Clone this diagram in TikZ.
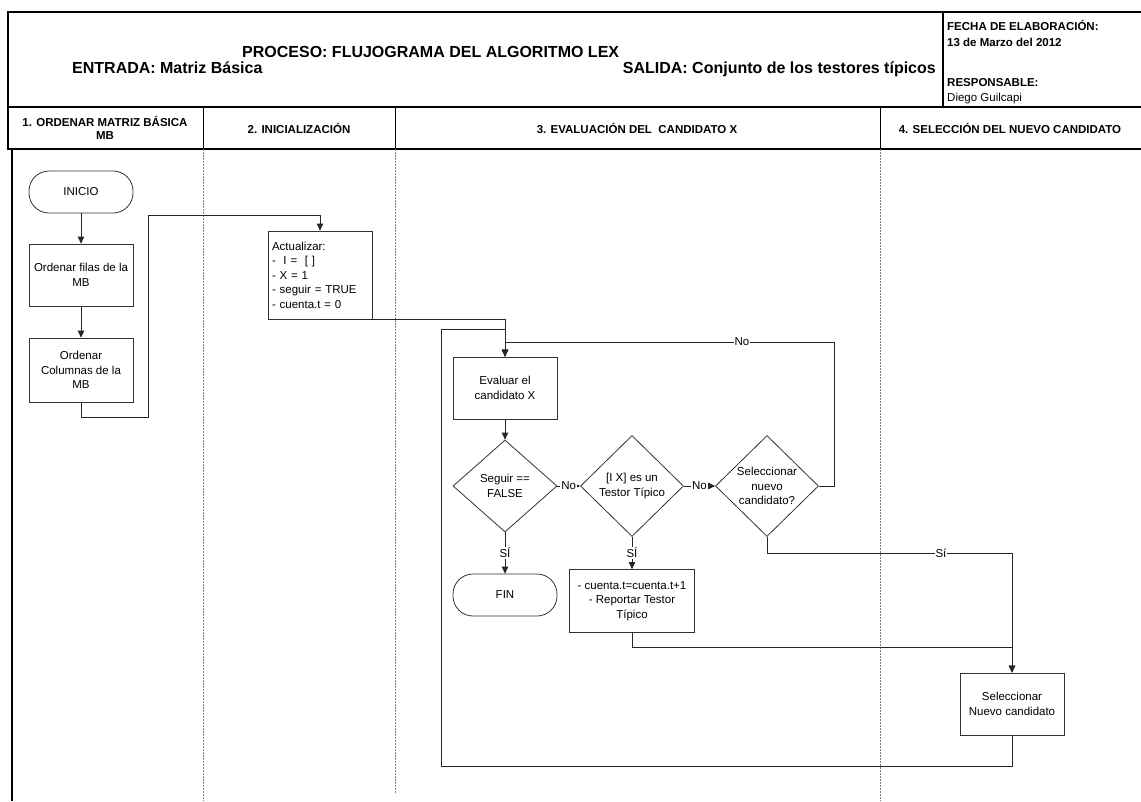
\documentclass[tikz,border=0pt]{standalone}
\usepackage{fontspec}
\setmainfont{Liberation Sans}
\usetikzlibrary{shapes.geometric,arrows.meta}

\begin{document}
\begin{tikzpicture}[x=1pt, y=-1pt, >={Triangle[length=7pt,width=6.5pt]},
  flow/.style={draw=black!85, line width=0.8pt},
  box/.style={draw=black!80, line width=0.8pt, minimum width=104pt, minimum height=62pt,
    align=center, inner sep=2pt, font=\fontsize{11.5}{14.5}\selectfont},
  terminal/.style={box, rounded corners=20pt, minimum height=42pt},
  decision/.style={diamond, draw=black!80, line width=0.8pt, minimum width=104pt,
    minimum height=101pt, inner sep=0pt, align=center, font=\fontsize{11.5}{14.5}\selectfont},
  lbl/.style={fill=white, inner sep=1pt, font=\fontsize{11.5}{13}\selectfont},
  lane/.style={font=\bfseries\fontsize{11.5}{12.5}\selectfont, align=center},
  head/.style={anchor=base west, inner sep=0pt, font=\bfseries\fontsize{11.5}{13}\selectfont},
  big/.style={inner sep=0pt, font=\bfseries\fontsize{16}{18}\selectfont},
  divider/.style={draw=gray, dashed, dash pattern=on 2pt off 1pt, line width=0.8pt}]

\useasboundingbox (0,0) rectangle (1141,801);

% -------- Header -----------
\draw [line width=1.2pt] (8,12) rectangle (1150,107);
\draw [line width=1.2pt] (943,12) -- (943,107);
\draw [line width=1.2pt] (8,107) rectangle (1150,149);
\foreach \x in {203,395,880}
  \draw [line width=1pt] (\x,107) -- (\x,149);

\node [big, anchor=base west] (titulo) at (242,57) {PROCESO: FLUJOGRAMA DEL ALGORITMO LEX};
\node [big, anchor=base west] (entrada) at (72,73) {ENTRADA: Matriz Básica};
\node [big, anchor=base east] (salida) at (936,73) {SALIDA: Conjunto de los testores típicos};

\node [head] (fecha) at (947,30) {FECHA DE ELABORACIÓN:};
\node [head] (dia) at (947,46) {13 de Marzo del 2012};
\node [head] (resp) at (947,86) {RESPONSABLE:};
\node [head, font=\fontsize{11.5}{13}\selectfont] (autor) at (947,101) {Diego Guilcapi};

\node [lane] (lane1) at (105,128) {1. ORDENAR MATRIZ BÁSICA\\MB};
\node [lane] (lane2) at (299,128) {2. INICIALIZACIÓN};
\node [lane] (lane3) at (637,128) {3. EVALUACIÓN DEL~~CANDIDATO X};
\node [lane] (lane4) at (1010,128) {4. SELECCIÓN DEL NUEVO CANDIDATO};

% -------- Lanes -----------
\draw [line width=1.2pt] (12,149) -- (12,801);
\draw [divider] (203,149) -- (203,801);
\draw [divider] (395,149) -- (395,793);
\draw [divider] (880,149) -- (880,801);

% -------- Nodes -----------
\node [terminal] (inicio) at (81,192) {INICIO};
\node [box] (ordfil) at (81,275) {Ordenar filas de la\\MB};
\node [box, minimum height=64pt] (ordcol) at (81,370) {Ordenar\\Columnas de la\\MB};

\node [box, minimum height=88pt, text width=96pt, align=left, inner sep=4pt] (act) at (320,275)
  {Actualizar:\\-~~I =~~[ ]\\- X = 1\\- seguir = TRUE\\- cuenta.t = 0};

\node [box] (eval) at (505,388) {Evaluar el\\candidato X};
\node [decision, minimum height=92pt] (seguir) at (505,486) {Seguir ==\\FALSE};
\node [terminal] (fin) at (505,595) {FIN};
\node [decision, minimum width=103pt] (testor) at (632,486) {[I X] es un\\Testor Típico};
\node [decision, minimum width=103pt] (selec) at (767,486) {Seleccionar\\nuevo\\candidato?};
\node [box, minimum width=125pt, minimum height=63pt] (cuenta) at (632,601)
  {- cuenta.t=cuenta.t+1\\- Reportar Testor\\Típico};
\node [box] (nuevo) at (1012,704) {Seleccionar\\Nuevo candidato};

% -------- Connectors -----------
\draw [flow,->] (inicio) -- (ordfil);
\draw [flow,->] (ordfil) -- (ordcol);
\draw [flow,->] (ordcol.south) -- (81,417) -- (148,417) -- (148,215) -- (320,215) -- (act.north);
\draw [flow,->] (act.south) -| (eval.north);
\draw [flow,->] (eval) -- (seguir);
\draw [flow,->] (seguir) -- node [lbl] {SÍ} (fin);
\draw [flow,->] (seguir) -- node [lbl] {No} (testor);
\draw [flow,->] (testor) -- node [lbl] {SÍ} (cuenta);
\draw [flow,->] (testor) -- node [lbl] {No} (selec);
\draw [flow,->] (selec.east) -- (834,486) -- (834,342) -- node [lbl, pos=0.28] {No} (505,342) -- (eval.north);
\draw [flow,->] (selec.south) -- (767,553) -- node [lbl, pos=0.71] {Sí} (1012,553) -- (nuevo.north);
\draw [flow,->] (cuenta.south) -- (632,647) -- (1012,647) -- (nuevo.north);
\draw [flow,->] (nuevo.south) -- (1012,766) -- (441,766) -- (441,329) -- (505,329) -- (eval.north);

\end{tikzpicture}
\end{document}
